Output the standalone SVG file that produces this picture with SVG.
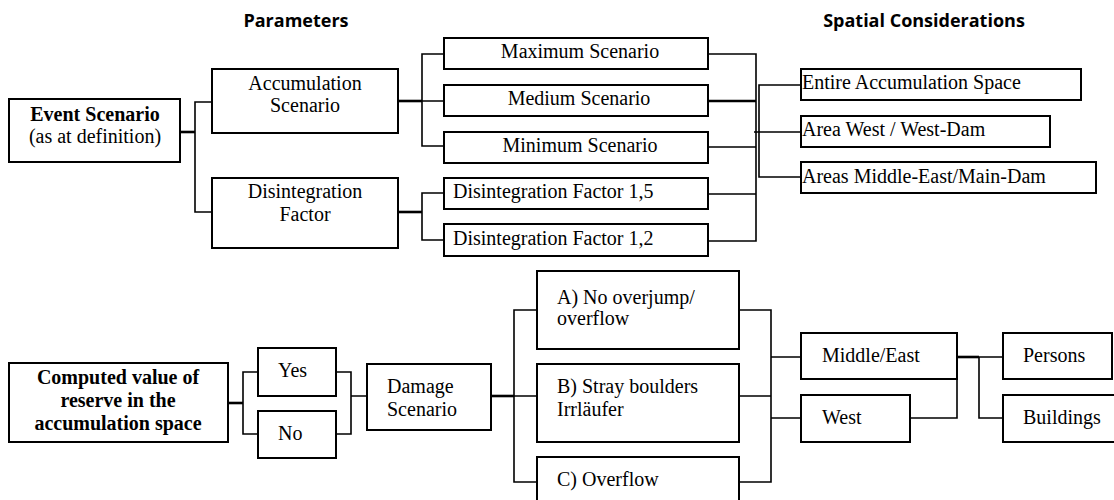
<svg xmlns="http://www.w3.org/2000/svg" width="1114" height="500" viewBox="0 0 1114 500">
<style>
.box{fill:#fff;stroke:#000;stroke-width:2}
.t{font-family:"Liberation Serif","Times New Roman",serif;font-size:20px;fill:#000}
.c{text-anchor:middle}
.b{font-weight:bold}
.title{font-family:"Open Sans","DejaVu Sans",sans-serif;font-weight:bold;font-size:18px;text-anchor:middle;fill:#000}
.ln{fill:none;stroke:#000;stroke-width:1.6}
.thick{fill:none;stroke:#000;stroke-width:2.6}
</style>
<rect width="1114" height="500" fill="#fff"/>
<text class="title" x="296" y="27">Parameters</text>
<text class="title" x="924" y="27">Spatial Considerations</text>
<g id="connectors">
<path class="thick" d="M180,132 H195"/>
<path class="ln" d="M212,102 H195 V212 H212"/>
<path class="thick" d="M398,101 H422"/>
<path class="ln" d="M444,54 H422 V146 H444 M422,101 H444"/>
<path class="thick" d="M398,212 H422"/>
<path class="ln" d="M444,193 H422 V240 H444"/>
<path class="ln" d="M708,54 H756 V241 H708 M708,147 H756 M708,194 H756"/>
<path class="thick" d="M708,101 H756"/>
<path class="ln" d="M801,85 H759 V177 H801 M754,132 H801"/>
<path class="thick" d="M228,403 H243"/>
<path class="ln" d="M258,372 H243 V434 H258"/>
<path class="ln" d="M336,372 H351 V434 H336 M351,396 H367"/>
<path class="thick" d="M491,396 H514"/>
<path class="ln" d="M537,310 H514 V482 H537 M514,396 H537"/>
<path class="ln" d="M739,310 H771 V482 H739 M739,396 H771 M771,357 H801 M771,418 H801"/>
<path class="ln" d="M910,418 H957 V379"/>
<path class="thick" d="M957,357 H979"/>
<path class="ln" d="M979,357 V418 H1003 M979,357 H1003"/>
</g>
<g id="event-scenario">
<rect class="box" x="9" y="99" width="171" height="63"/>
<text class="t c b" x="95" y="121">Event Scenario</text>
<text class="t c" x="95" y="143">(as at definition)</text>
</g>
<g id="accumulation-scenario">
<rect class="box" x="212" y="69" width="186" height="64"/>
<text class="t c" x="305" y="90">Accumulation</text>
<text class="t c" x="305" y="112">Scenario</text>
</g>
<g id="disintegration-factor">
<rect class="box" x="212" y="178" width="186" height="70"/>
<text class="t c" x="305" y="198">Disintegration</text>
<text class="t c" x="305" y="221">Factor</text>
</g>
<g id="maximum-scenario">
<rect class="box" x="444" y="38" width="264" height="31"/>
<text class="t c" x="580" y="58">Maximum Scenario</text>
</g>
<g id="medium-scenario">
<rect class="box" x="444" y="85" width="264" height="31"/>
<text class="t c" x="579" y="105">Medium Scenario</text>
</g>
<g id="minimum-scenario">
<rect class="box" x="444" y="132" width="264" height="31"/>
<text class="t c" x="580" y="152">Minimum Scenario</text>
</g>
<g id="disintegration-1-5">
<rect class="box" x="444" y="178" width="264" height="31"/>
<text class="t" x="453" y="198">Disintegration Factor 1,5</text>
</g>
<g id="disintegration-1-2">
<rect class="box" x="444" y="224" width="264" height="32"/>
<text class="t" x="453" y="245">Disintegration Factor 1,2</text>
</g>
<g id="entire-space">
<rect class="box" x="801" y="69" width="280" height="31"/>
<text class="t" x="802" y="89">Entire Accumulation Space</text>
</g>
<g id="area-west">
<rect class="box" x="801" y="116" width="249" height="31"/>
<text class="t" x="802" y="136">Area West / West-Dam</text>
</g>
<g id="areas-middle-east">
<rect class="box" x="801" y="162" width="295" height="31"/>
<text class="t" x="802" y="183">Areas Middle-East/Main-Dam</text>
</g>
<g id="computed-value">
<rect class="box" x="9" y="363" width="219" height="79"/>
<text class="t c b" x="118" y="384">Computed value of</text>
<text class="t c b" x="118" y="407">reserve in the</text>
<text class="t c b" x="118" y="430">accumulation space</text>
</g>
<g id="yes">
<rect class="box" x="258" y="348" width="78" height="48"/>
<text class="t" x="278" y="377">Yes</text>
</g>
<g id="no">
<rect class="box" x="258" y="411" width="78" height="47"/>
<text class="t" x="278" y="440">No</text>
</g>
<g id="damage-scenario">
<rect class="box" x="367" y="364" width="124" height="66"/>
<text class="t" x="387" y="393">Damage</text>
<text class="t" x="387" y="416">Scenario</text>
</g>
<g id="a-no-overjump">
<rect class="box" x="537" y="271" width="202" height="78"/>
<text class="t" x="557" y="304">A) No overjump/</text>
<text class="t" x="557" y="325">overflow</text>
</g>
<g id="b-stray-boulders">
<rect class="box" x="537" y="364" width="202" height="78"/>
<text class="t" x="557" y="393">B) Stray boulders</text>
<text class="t" x="557" y="416">Irrläufer</text>
</g>
<g id="c-overflow">
<rect class="box" x="537" y="457" width="202" height="50"/>
<text class="t" x="557" y="486">C) Overflow</text>
</g>
<g id="middle-east">
<rect class="box" x="801" y="333" width="156" height="46"/>
<text class="t" x="822" y="362">Middle/East</text>
</g>
<g id="west">
<rect class="box" x="801" y="395" width="109" height="47"/>
<text class="t" x="822" y="424">West</text>
</g>
<g id="persons">
<rect class="box" x="1003" y="333" width="109" height="46"/>
<text class="t" x="1023" y="362">Persons</text>
</g>
<g id="buildings">
<rect class="box" x="1003" y="395" width="120" height="47"/>
<text class="t" x="1023" y="424">Buildings</text>
</g>
</svg>
